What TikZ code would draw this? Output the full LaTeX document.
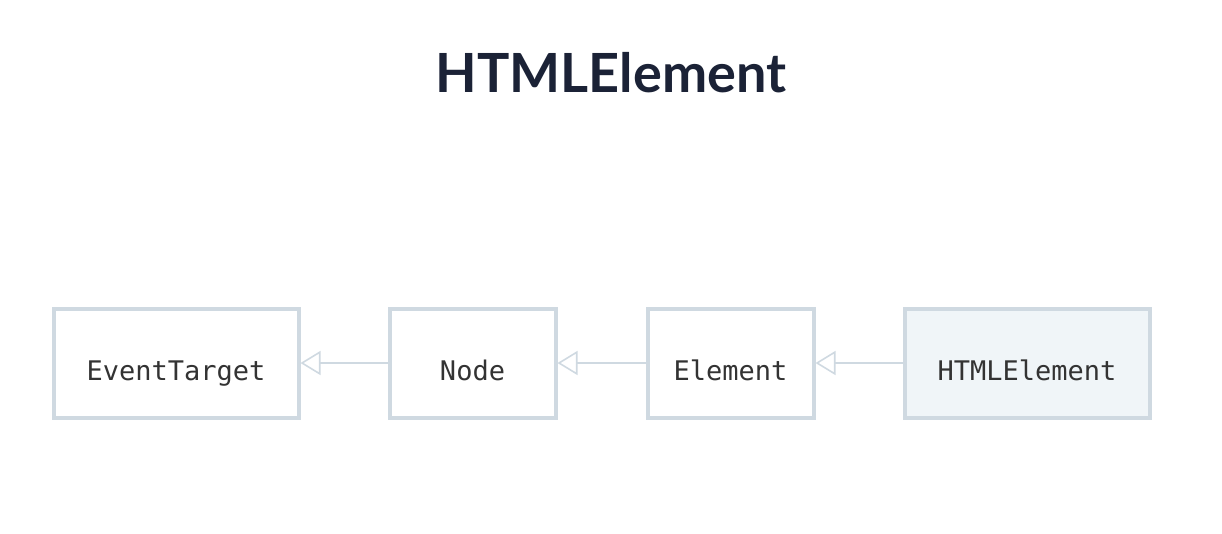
\documentclass[tikz,border=0pt]{standalone}
\usepackage{fontspec}
\setmainfont{Lato}
\newfontfamily\monof{DejaVu Sans Mono}
\usetikzlibrary{arrows.meta}
\definecolor{boxline}{HTML}{CFD9E1}
\definecolor{boxfill}{HTML}{F0F5F8}
\definecolor{titlecol}{HTML}{1B2236}
\definecolor{textcol}{HTML}{333333}
\newcommand{\lowtxt}[1]{\raisebox{-17pt}[0pt][0pt]{#1}}
\tikzset{
  cls/.style={draw=boxline, line width=4pt, fill=white, minimum width=245pt, minimum height=109pt, inner sep=0pt, font=\monof\fontsize{27pt}{30pt}\selectfont, text=textcol},
  clsnarrow/.style={cls, minimum width=166pt},
  inherit/.style={draw=boxline, line width=1.6pt, -{Triangle[open, length=20pt, width=24pt, line width=1.6pt]}}
}
\begin{document}
\begin{tikzpicture}[x=1pt,y=-1pt]
\useasboundingbox (0,0) rectangle (1222,533);
\node[font=\bfseries\fontsize{54pt}{60pt}\selectfont, text=titlecol] (title) at (611,73) {HTMLElement};
\node[cls] (et) at (176,363) {\lowtxt{EventTarget}};
\node[clsnarrow] (nd) at (472.5,363) {\lowtxt{Node}};
\node[clsnarrow] (el) at (730.5,363) {\lowtxt{Element}};
\node[cls, fill=boxfill] (he) at (1027,363) {\lowtxt{HTMLElement}};
\draw[inherit] (nd.west) -- (et.east);
\draw[inherit] (el.west) -- (nd.east);
\draw[inherit] (he.west) -- (el.east);
\end{tikzpicture}
\end{document}
